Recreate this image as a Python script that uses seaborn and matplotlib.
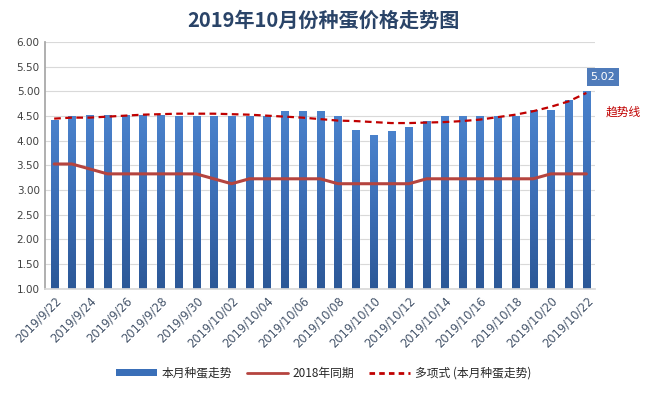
import matplotlib
matplotlib.use('Agg')
import matplotlib.pyplot as plt
from matplotlib.patches import Patch
from matplotlib.lines import Line2D
from matplotlib.colors import LinearSegmentedColormap
import numpy as np
import pandas as pd
import seaborn as sns

dates = ['2019/9/22', '2019/9/23', '2019/9/24', '2019/9/25', '2019/9/26', '2019/9/27',
         '2019/9/28', '2019/9/29', '2019/9/30', '2019/10/01', '2019/10/02', '2019/10/03',
         '2019/10/04', '2019/10/05', '2019/10/06', '2019/10/07', '2019/10/08', '2019/10/09',
         '2019/10/10', '2019/10/11', '2019/10/12', '2019/10/13', '2019/10/14', '2019/10/15',
         '2019/10/16', '2019/10/17', '2019/10/18', '2019/10/19', '2019/10/20', '2019/10/21',
         '2019/10/22']
price_2019 = [4.42, 4.50, 4.52, 4.52, 4.52, 4.52, 4.52, 4.51, 4.51, 4.51, 4.51,
              4.51, 4.51, 4.61, 4.61, 4.61, 4.50, 4.21, 4.11, 4.19, 4.29, 4.40,
              4.51, 4.51, 4.51, 4.51, 4.51, 4.62, 4.62, 4.83, 5.02]
price_2018 = [3.53, 3.53, 3.43, 3.33, 3.33, 3.33, 3.33, 3.33, 3.33, 3.23, 3.13,
              3.23, 3.23, 3.23, 3.23, 3.23, 3.13, 3.13, 3.13, 3.13, 3.13, 3.23,
              3.23, 3.23, 3.23, 3.23, 3.23, 3.23, 3.33, 3.33, 3.33]
trend = [4.45, 4.47, 4.47, 4.49, 4.51, 4.53, 4.54, 4.55, 4.55, 4.55, 4.54,
         4.53, 4.51, 4.49, 4.47, 4.44, 4.41, 4.40, 4.38, 4.36, 4.36, 4.37,
         4.38, 4.40, 4.43, 4.48, 4.53, 4.60, 4.69, 4.80, 4.97]
yticks = [1.0, 1.5, 2.0, 2.5, 3.0, 3.5, 4.0, 4.5, 5.0, 5.5, 6.0]

df = pd.DataFrame({'date': dates, 'price': price_2019,
                   'y2018': price_2018, 'trend': trend})

sns.set_theme(style='white')
plt.rcParams['font.family'] = ['Noto Sans CJK SC', 'DejaVu Sans']

bar_color = '#3A6FB8'
line_color = '#B5443F'
trend_color = '#C00000'
grad = LinearSegmentedColormap.from_list('bar', ['#2C5897', '#3B6DB5', '#4A82CC'])

fig = plt.figure(figsize=(6.47, 3.94), dpi=100)
ax = fig.add_axes([0.070, 0.267, 0.850, 0.626])

sns.barplot(data=df, x='date', y='price', color=bar_color, saturation=1,
            width=0.40, ax=ax, zorder=2)
sns.pointplot(data=df, x='date', y='y2018', color=line_color, marker='',
              linewidth=2.2, ax=ax, zorder=3)
sns.pointplot(data=df, x='date', y='trend', color=trend_color, marker='',
              linestyle=(0, (3, 2)), linewidth=1.6, ax=ax, zorder=4)

ax.set_ylim(1, 6)
ax.set_xlim(-0.5, len(dates) - 0.5)

# vertical gradient fill on the bars
gimg = np.linspace(0, 1, 256).reshape(-1, 1)
for p in list(ax.patches):
    x0, w, h = p.get_x(), p.get_width(), p.get_height()
    im = ax.imshow(gimg, cmap=grad, origin='lower', aspect='auto',
                   extent=(x0, x0 + w, 1, h), zorder=2.1)
    im.set_clip_path(p)
    p.set_facecolor('none')
ax.set_xlim(-0.5, len(dates) - 0.5)
ax.set_ylim(1, 6)

ax.set_yticks(yticks)
ax.set_yticklabels([f'{v:.2f}' for v in yticks], fontsize=7.5, color='#404040',
                   family='DejaVu Sans')
ax.yaxis.grid(True, color='#D9D9D9', linewidth=0.8, zorder=0)
ax.set_axisbelow(True)
ax.set_xlabel('')
ax.set_ylabel('')

ax.set_xticks(range(0, len(dates), 2))
ax.set_xticklabels(dates[::2], rotation=45, ha='right', rotation_mode='anchor',
                   fontsize=8.3, color='#44546A', family='DejaVu Sans')
ax.tick_params(axis='both', length=0, pad=4)

for s in ['top', 'right']:
    ax.spines[s].set_visible(False)
ax.spines['left'].set_color('#A6A6A6')
ax.spines['bottom'].set_color('#D9D9D9')

# label on last bar
ax.annotate(f'{price_2019[-1]:.2f}', xy=(len(dates) - 1, price_2019[-1]),
            xytext=(12, 10), textcoords='offset points', ha='center', va='center',
            fontsize=8, color='white', family='DejaVu Sans',
            bbox=dict(boxstyle='square,pad=0.35', facecolor='#4F7BBA', edgecolor='none'),
            annotation_clip=False)
ax.text(len(dates) + 1.1, 4.58, '趋势线', color=trend_color, fontsize=8.5,
        ha='center', va='center', clip_on=False)

fig.suptitle('2019年10月份种蛋价格走势图', fontsize=14.5, fontweight='bold',
             color='#2A4468', y=0.975)

handles = [Patch(facecolor=bar_color, edgecolor='none'),
           Line2D([], [], color=line_color, linewidth=2),
           Line2D([], [], color=trend_color, linewidth=2, linestyle=(0, (2, 1.5)))]
fig.legend(handles, ['本月种蛋走势', '2018年同期', '多项式 (本月种蛋走势)'],
           loc='center', bbox_to_anchor=(0.5, 0.053), ncol=3, frameon=False,
           fontsize=8.5, handlelength=3.5, handleheight=0.6, columnspacing=1.2,
           handletextpad=0.4)

fig.savefig('out.png', dpi=100)
